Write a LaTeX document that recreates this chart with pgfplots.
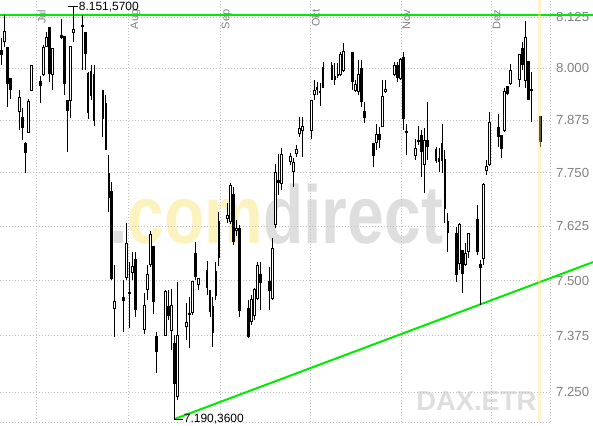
\documentclass[border=0pt]{standalone}
\usepackage{fontspec}
\setmainfont{Liberation Sans}
\usepackage{graphicx}
\usepackage{pgfplots}
\usepackage{pgfplotstable}
\pgfplotsset{compat=1.18}
\definecolor{gridgray}{RGB}{192,192,192}
\definecolor{labelgray}{RGB}{128,128,128}
\definecolor{trendgreen}{RGB}{0,235,0}
\definecolor{wmgray}{RGB}{222,222,222}
\definecolor{wmyellow}{RGB}{252,242,190}
\definecolor{bandyellow}{RGB}{255,228,120}

\pgfplotstableread{
d o h l c
0 8045 8075 8008 8034
1 8065 8131 8053 8090
2 8051 8052 7906 7964
3 7976 7977 7926 7950
6 7895 7947 7851 7930
7 7882 7904 7827 7858
8 7820 7823 7749 7799
9 7846 7926 7845 7921
10 7947 8008 7946 8007
13 7969 7981 7915 7959
14 7985 8057 7981 8052
15 8054 8090 8052 8076
16 8100 8101 7967 7988
17 7985 8049 7947 8049
20 8080 8120 8073 8076
21 8079 8080 7935 7964
22 7923 7924 7798 7898
23 7923 8053 7880 8053
24 8088 8151.57 8064 8094
27 8102 8131 7996 8106
28 8089 8090 7996 8037
29 7988 7992 7879 7893
30 7935 8008 7923 7992
31 7986 8008 7861 7875
34 7879 7946 7835 7946
35 7916 7935 7803 7804
36 7749 7792 7658 7693
37 7705 7728 7501 7505
38 7437 7535 7372 7452
41 7461 7501 7384 7454
42 7507 7632 7501 7585
43 7474 7543 7392 7471
44 7518 7566 7501 7532
45 7548 7566 7418 7435
48 7390 7471 7380 7444
49 7480 7535 7456 7513
50 7537 7614 7532 7605
51 7578 7579 7425 7452
52 7373 7384 7291 7341
55 7377 7478 7376 7475
56 7440 7478 7410 7422
57 7388 7481 7343 7444
58 7358 7377 7190.36 7269
59 7240 7497 7232 7377
62 7397 7449 7366 7405
63 7426 7463 7347 7423
64 7427 7499 7422 7499
65 7561 7589 7501 7510
66 7490 7504 7478 7504
69 7524 7545 7467 7485
70 7477 7477 7418 7429
71 7382 7463 7350 7440
72 7467 7543 7456 7520
73 7553 7659 7533 7635
76 7643 7679 7632 7649
77 7635 7726 7630 7719
78 7699 7717 7581 7589
79 7616 7639 7602 7621
80 7620 7628 7418 7433
83 7437 7456 7370 7373
84 7407 7467 7399 7457
85 7422 7482 7410 7480
86 7460 7543 7456 7535
87 7515 7543 7433 7495
90 7497 7532 7433 7477
91 7460 7597 7456 7574
92 7628 7771 7621 7750
93 7733 7794 7698 7727
94 7724 7808 7709 7794
97 7776 7797 7768 7788
98 7752 7784 7717 7773
99 7796 7816 7788 7804
100 7843 7883 7835 7855
101 7850 7883 7788 7861
104 7851 7923 7831 7923
105 7937 7972 7923 7947
106 7954 7967 7935 7950
107 7941 7964 7909 7945
108 7954 8015 7952 8002
111 8008 8016 7972 7973
112 7973 8012 7960 7980
113 7983 8012 7977 7986
114 7984 8041 7981 8035
115 7996 8063 7991 8041
118 8040 8041 7947 7968
119 7946 7972 7943 7962
120 7943 8020 7935 7986
121 8000 8020 7907 7919
122 7895 7919 7867 7882
125 7820 7820 7763 7792
126 7821 7866 7804 7841
127 7841 7859 7808 7829
128 7861 7972 7858 7933
129 7943 7972 7941 7950
132 7986 8016 7981 8008
133 8008 8016 7967 7978
134 7976 8025 7972 8022
135 8027 8041 7851 7879
136 7849 7866 7792 7846
139 7792 7829 7780 7808
140 7823 7861 7815 7826
141 7839 7851 7741 7800
142 7770 7855 7702 7827
143 7827 7919 7780 7813
146 7780 7811 7773 7805
147 7784 7808 7752 7776
148 7820 7866 7749 7780
149 7782 7804 7633 7666
150 7635 7655 7566 7610
153 7608 7624 7497 7513
154 7539 7633 7524 7629
155 7570 7570 7472 7516
156 7538 7587 7533 7562
157 7566 7608 7551 7608
160 7641 7674 7558 7566
161 7537 7547 7444 7530
162 7551 7726 7535 7723
163 7755 7780 7745 7766
164 7770 7895 7766 7870
167 7858 7890 7811 7835
168 7839 7840 7784 7808
169 7851 7952 7846 7943
170 7957 7958 7935 7939
171 7964 8010 7960 7994
174 7973 8035 7954 8035
175 8049 8065 7996 8010
176 7970 8117 7952 8076
177 8016 8016 7923 7925
178 7949 7992 7871 7946
181 7885 7885 7811 7823
}\candles

\tikzset{monthlbl/.style={rotate=90, anchor=north east, inner sep=0pt, text=labelgray, font=\fontsize{11}{11}\selectfont}}

\begin{document}
\begin{tikzpicture}
\begin{axis}[
  name=ax,
  set layers,
  scale only axis,
  width=550bp, height=422bp,
  xmin=-0.6, xmax=184.33,
  y coord trafo/.code={\pgfmathparse{1000*ln(#1/7000)}},
  y coord inv trafo/.code={\pgfmathparse{7000*exp(#1/1000)}},
  ymin=7184.1, ymax=8167.9,
  axis x line*=bottom, axis y line*=right,
  axis line style={gridgray, dash pattern=on 1bp off 2bp, line width=0.8bp},
  xtick={11.5,42.7,73.4,103.6,134.2,164.5},
  xticklabels={,,,,,},
  ytick={7250,7375,7500,7625,7750,7875,8000,8125},
  yticklabels={7.250,7.375,7.500,7.625,7.750,7.875,8.000,8.125},
  major tick length=0pt,
  grid=major,
  major grid style={gridgray, dash pattern=on 1bp off 2bp, line width=0.8bp},
  yticklabel style={anchor=west, inner sep=0pt, xshift=6bp, text=labelgray, font=\fontsize{13.2}{14}\selectfont},
  clip=false,
]
% watermarks
\begin{pgfonlayer}{axis background}
\node[anchor=base west, inner sep=0pt] at (axis cs:36,7586) {\scalebox{1.02}[1.27]{\fontsize{65}{65}\selectfont\bfseries\textcolor{wmgray}{.}\textcolor{wmyellow}{com}\textcolor{wmgray}{direct}}};
\node[anchor=base west, inner sep=0pt] at (axis cs:139.3,7210) {\fontsize{27.5}{28}\selectfont\bfseries\textcolor{wmgray}{DAX.ETR}};
\end{pgfonlayer}

% month labels
\node[monthlbl] at ([xshift=1.5bp,yshift=-9.5bp]axis cs:11.5,8167.9) {Jul};
\node[monthlbl] at ([xshift=1.5bp,yshift=-9.5bp]axis cs:42.7,8167.9) {Aug};
\node[monthlbl] at ([xshift=1.5bp,yshift=-9.5bp]axis cs:73.4,8167.9) {Sep};
\node[monthlbl] at ([xshift=1.5bp,yshift=-9.5bp]axis cs:103.6,8167.9) {Okt};
\node[monthlbl] at ([xshift=1.5bp,yshift=-9.5bp]axis cs:134.2,8167.9) {Nov};
\node[monthlbl] at ([xshift=1.5bp,yshift=-9.5bp]axis cs:164.5,8167.9) {Dez};

% resistance and support lines
\addplot[forget plot, trendgreen, line width=2bp] coordinates {(-0.6,8131) (198.8,8131)};
\addplot[forget plot, trendgreen, line width=2bp] coordinates {(58,7190.36) (198.8,7542.3)};

% candles
\pgfplotstablegetrowsof{\candles}
\pgfmathtruncatemacro{\nlast}{\pgfplotsretval-1}
\pgfplotsforeachungrouped \i in {0,...,\nlast}{%
  \pgfplotstablegetelem{\i}{d}\of\candles \edef\cd{\pgfplotsretval}%
  \pgfplotstablegetelem{\i}{o}\of\candles \edef\co{\pgfplotsretval}%
  \pgfplotstablegetelem{\i}{h}\of\candles \edef\ch{\pgfplotsretval}%
  \pgfplotstablegetelem{\i}{l}\of\candles \edef\cl{\pgfplotsretval}%
  \pgfplotstablegetelem{\i}{c}\of\candles \edef\cc{\pgfplotsretval}%
  \pgfmathsetmacro{\xa}{\cd-0.3}%
  \pgfmathsetmacro{\xb}{\cd+0.3}%
  \pgfmathtruncatemacro{\isup}{\cc>\co ? 1 : 0}%
  \ifnum\isup=1 \def\bfill{white}\else\def\bfill{black}\fi
  \edef\temp{\noexpand\addplot[forget plot, black, line width=0.9bp] coordinates {(\cd,\cl) (\cd,\ch)};
    \noexpand\addplot[forget plot, draw=black, fill=\bfill, line width=0.9bp] coordinates {(\xa,\co) (\xb,\co) (\xb,\cc) (\xa,\cc)} -- cycle;}%
  \temp
}

% highlighted last day
\addplot[forget plot, draw=none, fill=bandyellow, fill opacity=0.4] coordinates {(180.2,7184.1) (181.4,7184.1) (181.4,8167.9) (180.2,8167.9)} -- cycle;

% high and low markers
\addplot[forget plot, black, line width=0.8bp] coordinates {(22.4,8151.57) (25.7,8151.57)};
\node[anchor=west, inner sep=0.5bp, font=\fontsize{12}{12}\selectfont] at (axis cs:25.7,8151.57) {8.151,5700};
\addplot[forget plot, black, line width=0.8bp] coordinates {(58,7190.36) (61,7190.36)};
\node[anchor=west, inner sep=0.5bp, font=\fontsize{12}{12}\selectfont] at (axis cs:61,7190.36) {7.190,3600};
\end{axis}
\pgfresetboundingbox
\path[use as bounding box] ([yshift=-4bp]ax.south west) rectangle ([xshift=43bp]ax.north east);
\end{tikzpicture}
\end{document}
